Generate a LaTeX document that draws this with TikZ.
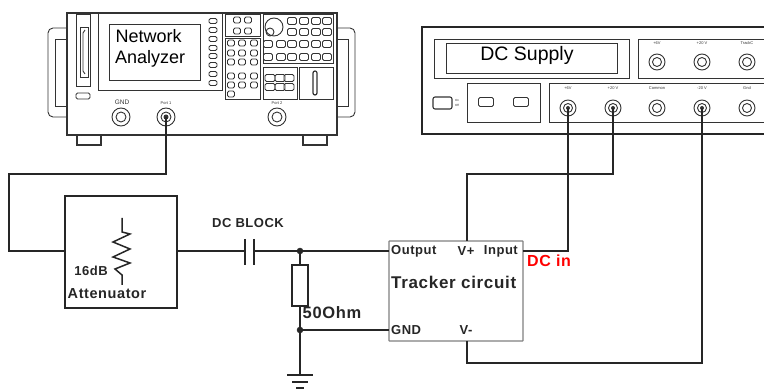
\documentclass[tikz,border=0pt]{standalone}
\usepackage{fontspec}
\setmainfont{Liberation Sans}
\newfontfamily\wideb[LetterSpace=4]{Liberation Sans Bold}
\usetikzlibrary{calc}
\definecolor{inkgrey}{gray}{0.2}
\tikzset{
    wire/.style={line width=1.5pt, black!85},
    panel/.style={line width=0.9pt, inkgrey},
    softkey/.style={line width=0.9pt, inkgrey, rounded corners=1.5pt},
    ring/.style={line width=0.9pt, inkgrey},
    tinylabel/.style={inner sep=0pt, text=inkgrey, font=\fontsize{4}{4}\selectfont},
    boxlabel/.style={inner sep=0pt, text=black!85, font=\wideb\fontsize{13}{13}\selectfont},
}
\begin{document}
\begin{tikzpicture}[x=1pt, y=-1pt]
        \useasboundingbox (0, 0) rectangle (764, 390);

        % network analyzer
        \draw[line width=1.5pt, inkgrey] (67, 13) rectangle (337, 135);
        \draw[panel, rounded corners=5pt] (67, 28) -- (48, 28) -- (48, 117) -- (67, 117);
        \draw[panel] (67, 39) -- (55, 39) -- (55, 106) -- (67, 106);
        \draw[panel, rounded corners=5pt] (337, 28) -- (355, 28) -- (355, 117) -- (337, 117);
        \draw[panel] (337, 39) -- (348, 39) -- (348, 106) -- (337, 106);
        \draw[line width=1.3pt, inkgrey] (77, 135) rectangle (101, 145);
        \draw[line width=1.3pt, inkgrey] (303, 135) rectangle (327, 145);
        \draw[panel] (76, 14) rectangle (90, 86);
        \draw[panel] (80, 27) rectangle (88, 77);
        \draw[panel] (85, 30) -- (83, 33) -- (83, 71) -- (85, 74);
        \draw[panel] (98, 13) rectangle (222, 90);
        \draw[panel] (109, 24) rectangle (200, 80);
        \draw[panel] (225, 14) rectangle (260, 36);
        \draw[panel] (225, 38) rectangle (260, 99);
        \draw[panel] (263, 14) rectangle (333, 63);
        \draw[panel] (263, 67) rectangle (297, 99);
        \draw[panel] (299, 67) rectangle (333, 99);
        \draw[softkey] (76, 93) rectangle (90, 99);

        \foreach \y in {21, 30, 39, 48, 56, 65, 74, 83}
            \draw[softkey] (213, \y) +(-4, -2.5) rectangle +(4, 2.5);
        \foreach \x in {237, 248}
            \foreach \y in {20, 31}
                \draw[softkey] (\x, \y) +(-3.5, -3) rectangle +(3.5, 3);
        \foreach \x in {231, 242, 254}
            \foreach \y in {43, 53, 62, 76, 85}
                \draw[softkey] (\x, \y) +(-3.5, -3) rectangle +(3.5, 3);
        \draw[softkey] (231, 94) +(-3.5, -3) rectangle +(3.5, 3);
        \foreach \x in {292, 304, 316, 327}
            \foreach \y in {21, 32}
                \draw[softkey] (\x, \y) +(-4.5, -3.5) rectangle +(4.5, 3.5);
        \foreach \x in {268, 281, 292, 304, 316, 327}
            \foreach \y in {44, 57}
                \draw[softkey] (\x, \y) +(-4.5, -3.5) rectangle +(4.5, 3.5);
        \foreach \x in {270, 280, 289}
            \foreach \y in {78, 87}
                \draw[softkey] (\x, \y) +(-5, -3.5) rectangle +(5, 3.5);
        \draw[ring] (274, 27) circle (9);
        \draw[ring] (270, 32) circle (4);
        \draw[line width=1.2pt, inkgrey, rounded corners=2pt] (313, 71) rectangle (317, 95);

        \coordinate (gnd) at (121, 117);
        \coordinate (port1) at (166, 117);
        \coordinate (port2) at (277, 117);
        \foreach \p in {gnd, port1, port2} {
            \draw[ring] (\p) circle (9);
            \draw[ring] (\p) circle (5);
        }
        \fill[inkgrey] (port1) circle (2.5);
        \node[inner sep=0pt, text=inkgrey, font=\fontsize{6.5}{7}\selectfont] (gndtext) at (122, 102) {GND};
        \node[tinylabel] (port1text) at (166, 103) {Port 1};
        \node[tinylabel] (port2text) at (277, 103) {Port 2};
        \node[inner sep=0pt, anchor=west, font=\fontsize{18}{18}\selectfont] (natext) at (115.5, 36) {Network};
        \node[inner sep=0pt, anchor=west, font=\fontsize{18}{18}\selectfont] (antext) at (115, 59) {Analyzer};

        % dc supply
        \draw[line width=2.6pt, black!85] (775, 27) -- (422, 27) -- (422, 134) -- (775, 134);
        \draw[panel] (434, 39) rectangle (629, 78);
        \draw[panel] (446, 43) rectangle (617, 73);
        \draw[panel] (775, 39) -- (638, 39) -- (638, 78) -- (775, 78);
        \draw[panel] (775, 83) -- (549, 83) -- (549, 122) -- (775, 122);
        \draw[panel] (467, 83) rectangle (540, 122);
        \draw[softkey] (486, 102) +(-7.5, -4.5) rectangle +(7.5, 4.5);
        \draw[softkey] (521, 102) +(-7.5, -4.5) rectangle +(7.5, 4.5);
        \draw[line width=1.1pt, inkgrey, rounded corners=2pt] (433, 97) rectangle (452, 109);
        \node[tinylabel, font=\fontsize{3}{3}\selectfont] (ontext) at (457, 100) {On};
        \node[tinylabel, font=\fontsize{3}{3}\selectfont] (offtext) at (457, 105) {Off};
        \node[inner sep=0pt, font=\fontsize{19.5}{20}\selectfont] (dctext) at (527, 55) {DC Supply};

        \coordinate (sup6) at (568, 108);
        \coordinate (sup20) at (613, 108);
        \coordinate (supcom) at (657, 108);
        \coordinate (supneg) at (702, 108);
        \coordinate (supgnd) at (747, 108);
        \foreach \p in {sup6, sup20, supcom, supneg, supgnd} {
            \draw[ring] (\p) circle (8);
            \draw[ring] (\p) circle (4.5);
        }
        \foreach \p in {sup6, sup20, supneg}
            \fill[inkgrey] (\p) circle (2);
        \foreach \x/\t in {657/+6V, 702/+20 V, 747/TrackC} {
            \draw[ring] (\x, 62) circle (8);
            \draw[ring] (\x, 62) circle (4.5);
            \node[tinylabel] (top\x) at (\x, 43) {\t};
        }
        \foreach \x/\t in {568/+6V, 613/+20 V, 657/Common, 702/-20 V, 747/Gnd}
            \node[tinylabel] (low\x) at (\x, 88) {\t};

        % attenuator and tracker
        \node[draw, line width=1.5pt, black!85, minimum width=112pt, minimum height=112pt, inner sep=0pt] (atten) at (121, 252) {};
        \node[draw, line width=1.2pt, black!50, rounded corners=0.5pt, minimum width=134pt, minimum height=100pt, inner sep=0pt] (tracker) at (456, 291) {};

        \draw[wire, line join=miter] (122, 218) -- (122, 232) -- (130, 234) -- (113, 242) -- (130, 249)
            -- (113, 257) -- (130, 263) -- (115, 269) -- (122, 275) -- (122, 285);
        \node[boxlabel] (dbtext) at (91, 271) {16dB};
        \node[boxlabel, font=\wideb\fontsize{14.5}{15}\selectfont] (attentext) at (107, 294) {Attenuator};
        \node[boxlabel] (blocktext) at (248, 223) {DC BLOCK};
        \node[boxlabel, font=\wideb\fontsize{16.5}{17}\selectfont] (ohmtext) at (332, 313) {50Ohm};

        \node[boxlabel, anchor=west] (outtext) at (391, 251) {Output};
        \node[boxlabel] (vptext) at (466, 251) {V+};
        \node[boxlabel, anchor=east] (intext) at (518, 251) {Input};
        \node[boxlabel, anchor=west, font=\wideb\fontsize{17}{17}\selectfont] (tracktext) at (391, 282) {Tracker circuit};
        \node[boxlabel, anchor=west] (gndin) at (391, 330) {GND};
        \node[boxlabel] (vmtext) at (466, 330) {V-};
        \node[boxlabel, anchor=west, text=red, font=\wideb\fontsize{16}{16}\selectfont] (dcin) at (527, 261) {DC in};

        % wiring
        \coordinate (capl) at (245, 251);
        \coordinate (capr) at (254, 251);
        \coordinate (top) at (300, 251);
        \coordinate (bot) at (300, 330);
        \coordinate (earth) at (300, 375);
        \coordinate (rtop) at (300, 265);
        \coordinate (rbot) at (300, 306);
        \coordinate (out) at (389, 251);
        \coordinate (vplus) at (467, 241);
        \coordinate (vminus) at (467, 341);
        \coordinate (input) at (523, 251);

        \draw[wire] (port1) -- (166, 174) -- (9, 174) -- (9, 251) -- (65, 251);
        \draw[wire] (177, 251) -- (capl);
        \draw[wire] (capr) -- (top) -- (out);
        \draw[wire] (245, 239) -- (245, 265);
        \draw[wire] (254, 239) -- (254, 265);
        \draw[wire] (top) -- (rtop);
        \draw[wire] (rbot) -- (bot) -- (earth);
        \draw[wire] (bot) -- (389, 330);
        \draw[wire] (292, 265) rectangle (308, 306);
        \filldraw[black!85] (top) circle (3pt);
        \filldraw[black!85] (bot) circle (3pt);
        \draw[wire] (287, 375) -- (313, 375);
        \draw[wire] (292, 382) -- (308, 382);
        \draw[wire] (296, 388) -- (304, 388);

        \draw[wire] (vplus) -- (467, 174) -- (613, 174) -- (sup20);
        \draw[wire] (input) -- (568, 251) -- (sup6);
        \draw[wire] (vminus) -- (467, 363) -- (702, 363) -- (supneg);

    \end{tikzpicture}
\end{document}
